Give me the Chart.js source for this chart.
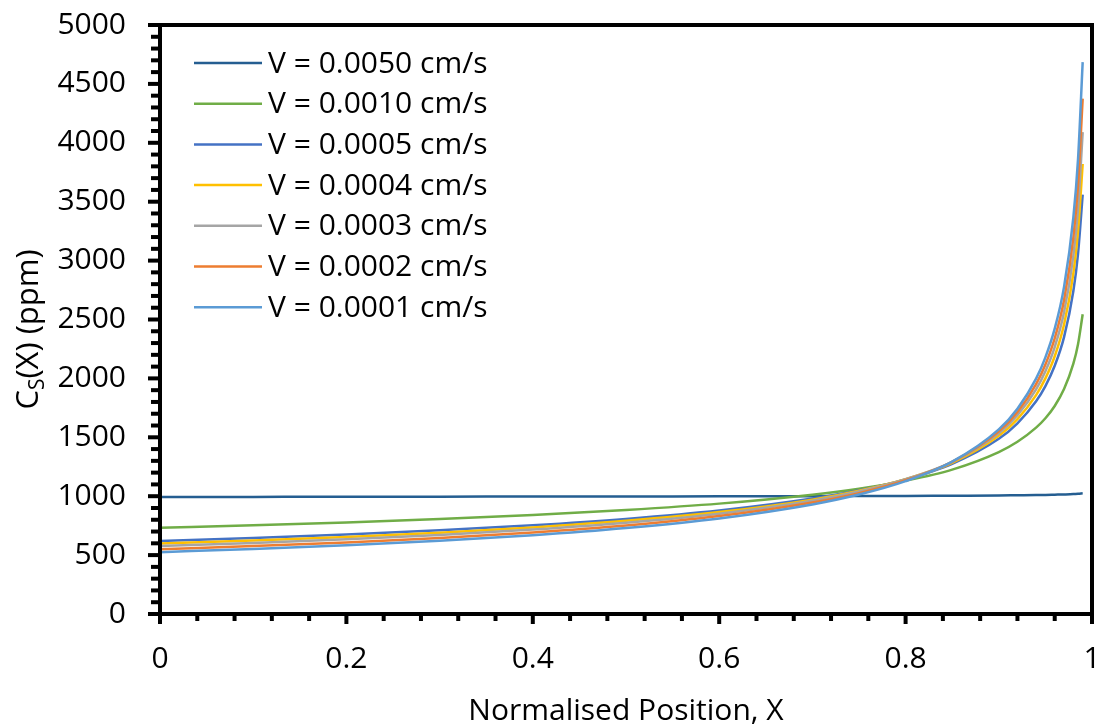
<!DOCTYPE html>
<html lang="en">
<head>
    <meta charset="UTF-8">
    <title>Cs(X) against normalised position</title>
    <script src="https://cdn.jsdelivr.net/npm/chart.js@4.4.0/dist/chart.umd.min.js"></script>
    <style>
        html, body { margin: 0; padding: 0; background: #fff; }
        #wrap { width: 1102px; height: 726px; }
    </style>
</head>
<body>
<div id="wrap"><canvas id="chart"></canvas></div>
<script>
    // normalised position X (shared by all series)
    const positions = [0, 0.1, 0.2, 0.3, 0.4, 0.5, 0.6, 0.7, 0.75, 0.8, 0.85, 0.9, 0.92, 0.94, 0.95, 0.96, 0.97, 0.98, 0.985, 0.99];

    const seriesLabels = ['V = 0.0050 cm/s', 'V = 0.0010 cm/s', 'V = 0.0005 cm/s', 'V = 0.0004 cm/s',
        'V = 0.0003 cm/s', 'V = 0.0002 cm/s', 'V = 0.0001 cm/s'];
    const seriesColors = ['#255E91', '#70AD47', '#4472C4', '#FFC000', '#A5A5A5', '#ED7D31', '#5B9BD5'];

    // Cs(X) in ppm
    const v0050 = [993, 994, 995, 996, 997, 998, 999, 1000, 1001, 1002, 1004, 1006, 1008, 1010, 1011, 1013, 1015, 1018, 1021, 1025];
    const v0010 = [732, 753, 777, 806, 840, 883, 937, 1013, 1064, 1132, 1226, 1375, 1462, 1582, 1662, 1766, 1910, 2125, 2290, 2545];
    const v0005 = [620, 645, 675, 710, 753, 807, 878, 980, 1050, 1143, 1275, 1487, 1619, 1806, 1935, 2107, 2350, 2742, 3058, 3560];
    const v0004 = [598, 624, 654, 690, 735, 791, 865, 971, 1046, 1144, 1284, 1513, 1655, 1858, 2000, 2188, 2457, 2893, 3249, 3820];
    const v0003 = [577, 603, 634, 671, 717, 775, 852, 962, 1040, 1144, 1292, 1535, 1688, 1907, 2061, 2266, 2561, 3042, 3438, 4090];
    const v0002 = [550, 577, 608, 646, 692, 751, 831, 946, 1026, 1135, 1292, 1550, 1714, 1951, 2118, 2341, 2665, 3198, 3640, 4375];
    const v0001 = [525, 552, 584, 622, 669, 730, 811, 930, 1014, 1128, 1293, 1567, 1743, 1998, 2179, 2422, 2777, 3367, 3859, 4685];
    const seriesValues = [v0050, v0010, v0005, v0004, v0003, v0002, v0001];

    // tick labels
    const xTicks = [0, 0.2, 0.4, 0.6, 0.8, 1];
    const yTicks = [0, 500, 1000, 1500, 2000, 2500, 3000, 3500, 4000, 4500, 5000];
    const xMinorStep = 0.04;
    const yMinorStep = 100;

    Chart.defaults.font.family = "'Open Sans', sans-serif";
    Chart.defaults.font.size = 30;
    Chart.defaults.color = '#000';

    // frame, major and minor tick marks
    const framePlugin = {
        id: 'frame',
        afterDatasetsDraw(chart) {
            const { ctx, chartArea: a, scales: { x, y } } = chart;
            ctx.save();
            ctx.strokeStyle = '#000';
            ctx.lineWidth = 4;
            ctx.strokeRect(a.left, a.top, a.right - a.left, a.bottom - a.top);
            const ny = Math.round((y.max - y.min) / yMinorStep);
            for (let i = 0; i <= ny; i++) {
                const py = y.getPixelForValue(y.min + i * yMinorStep);
                const len = i % 5 === 0 ? 12 : 9;
                ctx.beginPath();
                ctx.moveTo(a.left, py);
                ctx.lineTo(a.left - len, py);
                ctx.stroke();
            }
            const nx = Math.round((x.max - x.min) / xMinorStep);
            for (let i = 0; i <= nx; i++) {
                const px = x.getPixelForValue(x.min + i * xMinorStep);
                const len = i % 5 === 0 ? 10 : 7;
                ctx.beginPath();
                ctx.moveTo(px, a.bottom);
                ctx.lineTo(px, a.bottom + len);
                ctx.stroke();
            }
            ctx.restore();
        }
    };

    // legend inside the plot, top left
    const legendPlugin = {
        id: 'insideLegend',
        afterDraw(chart) {
            const { ctx, chartArea: a } = chart;
            ctx.save();
            ctx.font = "30px 'Open Sans', sans-serif";
            ctx.textBaseline = 'middle';
            ctx.fillStyle = '#000';
            chart.data.datasets.forEach((ds, i) => {
                const ly = a.top + 38 + i * 40.7;
                ctx.strokeStyle = ds.borderColor;
                ctx.lineWidth = 2.5;
                ctx.beginPath();
                ctx.moveTo(a.left + 34, ly);
                ctx.lineTo(a.left + 102, ly);
                ctx.stroke();
                ctx.fillText(ds.label, a.left + 108, ly + 1);
            });
            ctx.restore();
        }
    };

    // y title with subscript S
    const yTitlePlugin = {
        id: 'yTitle',
        afterDraw(chart) {
            const { ctx, chartArea: a } = chart;
            const main = "31px 'Open Sans', sans-serif";
            const sub = "21px 'Open Sans', sans-serif";
            ctx.save();
            ctx.fillStyle = '#000';
            ctx.textBaseline = 'alphabetic';
            ctx.font = main;
            const w1 = ctx.measureText('C').width;
            const w3 = ctx.measureText('(X) (ppm)').width;
            ctx.font = sub;
            const w2 = ctx.measureText('S').width;
            const total = w1 + w2 + w3;
            ctx.translate(38, (a.top + a.bottom) / 2 + 10);
            ctx.rotate(-Math.PI / 2);
            let cx = -total / 2;
            ctx.font = main;
            ctx.fillText('C', cx, 0);
            cx += w1;
            ctx.font = sub;
            ctx.fillText('S', cx, 6);
            cx += w2;
            ctx.font = main;
            ctx.fillText('(X) (ppm)', cx, 0);
            ctx.restore();
        }
    };

    // keep the plot box where it is in the picture
    function noScalePadding(s) {
        s.paddingTop = 0;
        s.paddingBottom = 0;
        s.paddingLeft = 0;
        s.paddingRight = 0;
    }

    const datasets = seriesLabels.map((label, i) => ({
        label: label,
        data: positions.map((p, j) => ({ x: p, y: seriesValues[i][j] })),
        borderColor: seriesColors[i],
        backgroundColor: seriesColors[i],
        borderWidth: 2.5,
        pointRadius: 0,
        cubicInterpolationMode: 'monotone',
        fill: false,
        order: seriesLabels.length - 1 - i
    }));

    new Chart(document.getElementById('chart'), {
        type: 'line',
        data: { datasets: datasets },
        options: {
            responsive: true,
            maintainAspectRatio: false,
            animation: false,
            layout: { padding: { top: 25, right: 10, left: 0, bottom: 0 } },
            plugins: {
                legend: { display: false },
                tooltip: { enabled: false }
            },
            scales: {
                x: {
                    type: 'linear',
                    min: 0,
                    max: 1,
                    grid: { display: false, drawTicks: false },
                    border: { display: false },
                    ticks: { padding: 27, maxRotation: 0, callback: v => String(v) },
                    afterBuildTicks: s => { s.ticks = xTicks.map(v => ({ value: v })); },
                    afterFit: s => { s.height = 112; noScalePadding(s); },
                    title: { display: true, text: 'Normalised Position, X', padding: { top: 0, bottom: -3 } }
                },
                y: {
                    min: 0,
                    max: 5000,
                    grid: { display: false, drawTicks: false },
                    border: { display: false },
                    ticks: { padding: 34, callback: v => String(v) },
                    afterBuildTicks: s => { s.ticks = yTicks.map(v => ({ value: v })); },
                    afterFit: s => { s.width = 160; noScalePadding(s); }
                }
            }
        },
        plugins: [framePlugin, legendPlugin, yTitlePlugin]
    });
</script>
</body>
</html>
